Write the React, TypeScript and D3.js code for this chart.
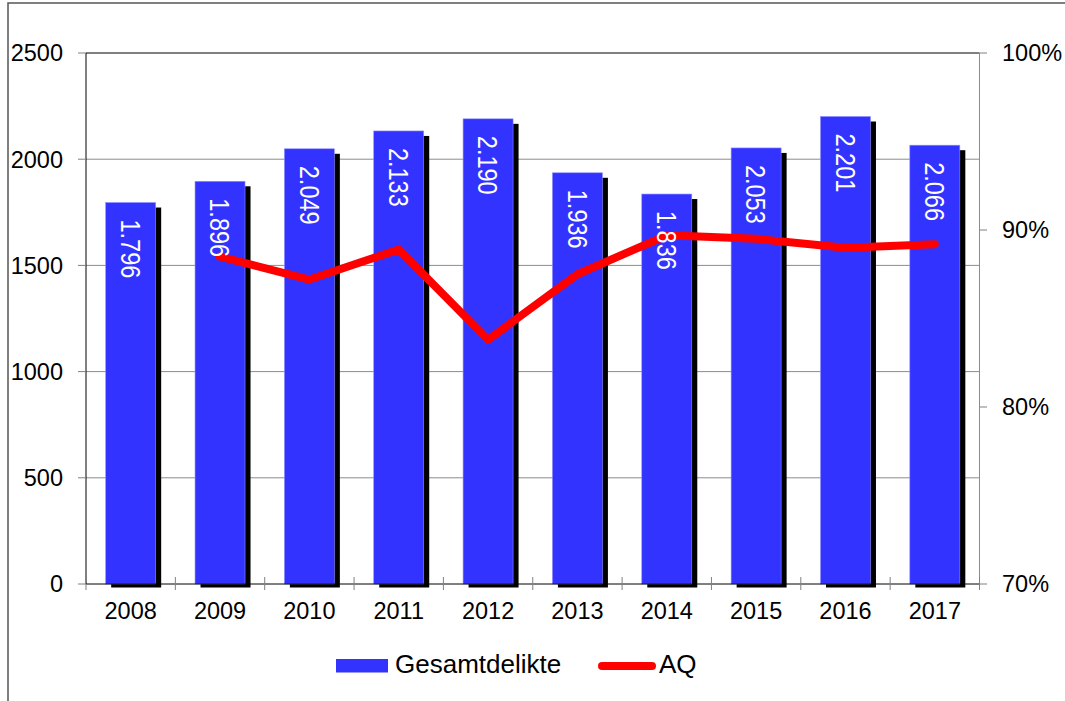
import React from "react";
import * as d3 from "d3";

const years = ["2008", "2009", "2010", "2011", "2012", "2013", "2014", "2015", "2016", "2017"];
const gesamtdelikte = [1796, 1896, 2049, 2133, 2190, 1936, 1836, 2053, 2201, 2066];
const aqYears = ["2009", "2010", "2011", "2012", "2013", "2014", "2015", "2016", "2017"];
const aqValues = [88.5, 87.2, 88.9, 83.8, 87.5, 89.7, 89.5, 89.0, 89.2];
const leftTicks = [0, 500, 1000, 1500, 2000, 2500];
const rightTicks = [70, 80, 90, 100];

const W = 1065;
const H = 701;
const FONT = "'Liberation Sans', Arial, sans-serif";

export default function App() {
  const left = 86;
  const right = 979.5;
  const top = 53;
  const bottom = 584;

  const x = d3.scaleBand<string>().domain(years).range([left, right]).padding(0);
  const y = d3.scaleLinear().domain([0, 2500]).range([bottom, top]);
  const y2 = d3.scaleLinear().domain([70, 100]).range([bottom, top]);
  const bw = 50;
  const fmt = (v: number) => d3.format(",")(v).replace(/,/g, ".");

  const line = d3
    .line<number>()
    .x((_, i) => (x(aqYears[i]) as number) + x.bandwidth() / 2)
    .y((d) => y2(d));

  return (
    <svg
      width={W}
      height={H}
      style={{ position: "absolute", left: 0, top: 0, background: "#fff" }}
      fontFamily={FONT}
    >
      <rect x={0} y={0} width={W} height={H} fill="#fff" />
      <path d={`M8,${H} V3 H${W}`} fill="none" stroke="#555" strokeWidth={1.5} />

      {/* gridlines */}
      {leftTicks.slice(1, -1).map((t) => (
        <line key={t} x1={left} x2={right} y1={y(t)} y2={y(t)} stroke="#8c8c8c" strokeWidth={1} />
      ))}
      <line x1={left} x2={right} y1={top} y2={top} stroke="#000" strokeWidth={1} />

      {/* shadows */}
      {gesamtdelikte.map((v, i) => {
        const cx = (x(years[i]) as number) + x.bandwidth() / 2;
        return (
          <rect
            key={"s" + i}
            x={cx - bw / 2 + 5.5}
            y={y(v) + 5}
            width={bw}
            height={bottom + 3.5 - (y(v) + 5)}
            fill="#000"
          />
        );
      })}
      {/* bars */}
      {gesamtdelikte.map((v, i) => {
        const cx = (x(years[i]) as number) + x.bandwidth() / 2;
        return (
          <rect
            key={"b" + i}
            x={cx - bw / 2}
            y={y(v)}
            width={bw}
            height={bottom - y(v)}
            fill="#3333ff"
            stroke="#8f8fff"
            strokeWidth={0.6}
          />
        );
      })}

      {/* AQ line */}
      <path
        d={line(aqValues) || ""}
        fill="none"
        stroke="#ff0000"
        strokeWidth={8}
        strokeLinecap="round"
        strokeLinejoin="round"
      />

      {/* bar labels */}
      {gesamtdelikte.map((v, i) => {
        const cx = (x(years[i]) as number) + x.bandwidth() / 2;
        const ty = y(v) + 17;
        return (
          <text
            key={"l" + i}
            transform={`translate(${cx},${ty}) rotate(90) scale(1,1.15)`}
            fill="#fff"
            fontSize={23.5}
            dy="0.36em"
            textAnchor="start"
          >
            {fmt(v)}
          </text>
        );
      })}

      {/* axes */}
      <line x1={left} x2={left} y1={top} y2={bottom} stroke="#000" strokeWidth={1} />
      <line x1={right} x2={right} y1={top} y2={bottom} stroke="#8c8c8c" strokeWidth={1} />
      <line x1={left} x2={right} y1={bottom} y2={bottom} stroke="#000" strokeWidth={1} />

      {leftTicks.map((t) => (
        <g key={"lt" + t}>
          <line x1={78} x2={left} y1={y(t)} y2={y(t)} stroke="#808080" strokeWidth={1} />
          <text x={63} y={y(t)} dy="0.36em" textAnchor="end" fontSize={23.5} fill="#000">
            {t}
          </text>
        </g>
      ))}
      {rightTicks.map((t) => (
        <g key={"rt" + t}>
          <line x1={right} x2={987} y1={y2(t)} y2={y2(t)} stroke="#808080" strokeWidth={1} />
          <text x={1002} y={y2(t)} dy="0.36em" textAnchor="start" fontSize={23.5} fill="#000">
            {t}%
          </text>
        </g>
      ))}
      {years.map((yr, i) => {
        const x0 = x(yr) as number;
        return (
          <g key={"xt" + yr}>
            <line x1={x0} x2={x0} y1={i === 0 ? bottom : 577} y2={590} stroke="#808080" strokeWidth={1} />
            <text x={x0 + x.bandwidth() / 2} y={619} textAnchor="middle" fontSize={23.5} fill="#000">
              {yr}
            </text>
          </g>
        );
      })}
      <line x1={right} x2={right} y1={577} y2={590} stroke="#808080" strokeWidth={1} />

      {/* legend */}
      <rect x={336} y={659} width={52} height={13.5} fill="#3333ff" />
      <text x={395} y={673} fontSize={26} fill="#000">
        Gesamtdelikte
      </text>
      <line x1={602} x2={652} y1={666} y2={666} stroke="#ff0000" strokeWidth={8} strokeLinecap="round" />
      <text x={659} y={673} fontSize={26} fill="#000">
        AQ
      </text>
    </svg>
  );
}
